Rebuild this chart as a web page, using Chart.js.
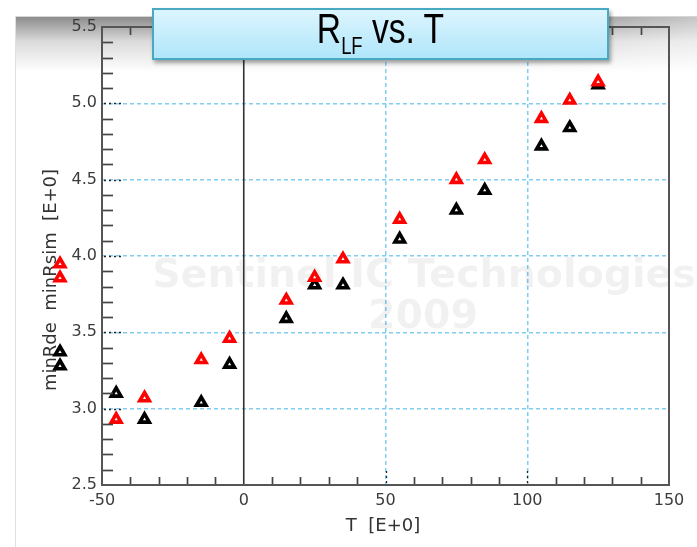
<!DOCTYPE html>
<html><head><meta charset="utf-8">
<script src="https://cdn.jsdelivr.net/npm/chart.js@4"></script>
<style>
html,body{margin:0;padding:0;background:#fff;width:697px;height:547px;overflow:hidden}
#wrap{position:relative;width:697px;height:547px}
#panel{position:absolute;left:15px;top:16px;right:-2px;bottom:-2px;border-top:1px solid #d6d6d6;border-left:1px solid #e0e0e0}
#shadow{position:absolute;left:16px;top:17px;right:0;height:55px;background:linear-gradient(to bottom,rgba(0,0,0,0.45),rgba(0,0,0,0.14) 45%,rgba(0,0,0,0));-webkit-mask-image:linear-gradient(to right,#000 0%,#000 75%,rgba(0,0,0,0.5) 100%);mask-image:linear-gradient(to right,#000 0%,#000 75%,rgba(0,0,0,0.5) 100%)}
#c{position:absolute;left:0;top:0}
#title{position:absolute;left:152px;top:8px;width:457px;height:52px;box-sizing:border-box;border:2px solid #48a9c2;background:linear-gradient(#dcf5fd,#b0e6fb);box-shadow:2px 3px 4px rgba(0,0,0,.35);color:#000}
#tt{position:absolute;left:0;right:0;top:-3px;text-align:center;font-family:'Liberation Sans',Arial,sans-serif;font-size:42px;line-height:44px;transform:scaleX(0.8);transform-origin:center;white-space:nowrap}
#tt sub{font-size:23px;vertical-align:-11px;line-height:0}
</style></head>
<body><div id="wrap"><div id="panel"></div><div id="shadow"></div><canvas id="c" width="697" height="547"></canvas>
<div id="title"><div id="tt">R<sub>LF</sub> vs. T</div></div></div>
<script>
const temps = [-45, -35, -15, -5, 15, 25, 35, 55, 75, 85, 105, 115, 125];
const minRsim = [2.93, 3.07, 3.32, 3.46, 3.71, 3.86, 3.98, 4.24, 4.50, 4.63, 4.90, 5.02, 5.14];
const minRde  = [3.10, 2.93, 3.04, 3.29, 3.59, 3.81, 3.81, 4.11, 4.30, 4.43, 4.72, 4.84, 5.12];
const xTickLabels = [-50, 0, 50, 100, 150];
const yTickLabels = [2.5, 3.0, 3.5, 4.0, 4.5, 5.0, 5.5];

const tickFont = {family:'DejaVu Sans', size:16};
const isMajorY = v => yTickLabels.some(t => Math.abs(t - v) < 1e-6);
const isMajorX = v => xTickLabels.some(t => Math.abs(t - v) < 1e-6);
const gridBlue = '#80cdf2';
const MR = 5.5, MB = 3.6;

function drawTri(ctx, x, y, color){
  ctx.save();
  ctx.beginPath();
  for (let i=0;i<3;i++){
    const a = i*2*Math.PI/3;
    const px = x + Math.sin(a)*MR, py = y - Math.cos(a)*MR;
    i ? ctx.lineTo(px,py) : ctx.moveTo(px,py);
  }
  ctx.closePath();
  ctx.fillStyle = '#fff'; ctx.fill();
  ctx.lineWidth = MB; ctx.strokeStyle = color; ctx.stroke();
  ctx.restore();
}

const decor = {
  id:'decor',
  beforeDatasetsDraw(chart){
    const {ctx} = chart;
    ctx.save();
    ctx.fillStyle = 'rgba(0,0,0,0.055)';
    ctx.textAlign = 'center'; ctx.textBaseline = 'middle';
    let fs = 40;
    ctx.font = 'bold '+fs+'px "DejaVu Sans"';
    const w = ctx.measureText('Sentinel IC Technologies').width;
    fs = fs*544/w;
    ctx.font = 'bold '+fs+'px "DejaVu Sans"';
    ctx.fillText('Sentinel IC Technologies', 424, 277);
    ctx.fillText('2009', 423, 318);
    ctx.restore();
  },
  afterDatasetsDraw(chart){
    const {ctx, chartArea:a, scales:{x, y}} = chart;
    ctx.save();
    const x0 = x.getPixelForValue(0);
    ctx.strokeStyle = '#333'; ctx.lineWidth = 1.6;
    ctx.beginPath(); ctx.moveTo(x0, a.top); ctx.lineTo(x0, a.bottom); ctx.stroke();
    ctx.strokeStyle = '#444'; ctx.lineWidth = 1.7;
    y.ticks.forEach(t => {
      const py = Math.round(y.getPixelForValue(t.value))+0.5;
      if (isMajorY(t.value)) {
        if (t.value > 2.6 && t.value < 5.4) {
          ctx.save(); ctx.strokeStyle = '#222'; ctx.lineWidth = 1.3; ctx.setLineDash([2,3]);
          ctx.beginPath(); ctx.moveTo(a.left+2, py); ctx.lineTo(a.left+20, py); ctx.stroke();
          ctx.restore();
        }
        return;
      }
      ctx.beginPath(); ctx.moveTo(a.left, py); ctx.lineTo(a.left+11, py); ctx.stroke();
    });
    x.ticks.forEach(t => {
      const px = Math.round(x.getPixelForValue(t.value))+0.5;
      if (isMajorX(t.value)) {
        if (t.value > -40 && t.value < 140 && t.value !== 0) {
          ctx.save(); ctx.strokeStyle = '#222'; ctx.lineWidth = 1.3; ctx.setLineDash([2,3]);
          ctx.beginPath(); ctx.moveTo(px, a.bottom-2); ctx.lineTo(px, a.bottom-14); ctx.stroke();
          ctx.restore();
        }
        return;
      }
      ctx.beginPath(); ctx.moveTo(px, a.bottom); ctx.lineTo(px, a.bottom-8); ctx.stroke();
      ctx.beginPath(); ctx.moveTo(px, a.top); ctx.lineTo(px, a.top+8); ctx.stroke();
    });
    ctx.strokeStyle = '#555'; ctx.lineWidth = 2;
    ctx.strokeRect(a.left, a.top, a.right-a.left, a.bottom-a.top);
    ctx.fillStyle = '#333';
    ctx.font = '18px "DejaVu Sans"';
    ctx.textAlign = 'center'; ctx.textBaseline = 'alphabetic';
    ctx.fillText('T  [E+0]', 383, 531);
    ctx.save();
    ctx.translate(56, 280); ctx.rotate(-Math.PI/2);
    ctx.fillText('minRde  minRsim  [E+0]', 0, 0);
    ctx.restore();
    ctx.restore();
    drawTri(ctx, 60, 264, '#ff0000');
    drawTri(ctx, 60, 278, '#ff0000');
    drawTri(ctx, 60, 352, '#000000');
    drawTri(ctx, 60, 366, '#000000');
  }
};

new Chart(document.getElementById('c'), {
  type:'scatter',
  data:{
    datasets:[
      {label:'minRsim', data: temps.map((t,i)=>({x:t,y:minRsim[i]})), pointStyle:'triangle', radius:MR, borderWidth:MB, borderColor:'#ff0000', backgroundColor:'#fff'},
      {label:'minRde', data: temps.map((t,i)=>({x:t,y:minRde[i]})), pointStyle:'triangle', radius:MR, borderWidth:MB, borderColor:'#000', backgroundColor:'#fff'}
    ]
  },
  options:{
    responsive:false, animation:false, events:[],
    layout:{padding:{left:0, right:28, top:27, bottom:0}},
    plugins:{legend:{display:false}, tooltip:{enabled:false}},
    scales:{
      x:{type:'linear', min:-50, max:150,
        afterFit(s){ s.height = 62; },
        border:{display:false, dash:[4,3]},
        grid:{drawTicks:false, lineWidth:1.5, color:c => (isMajorX(c.tick.value) && c.tick.value>-50 && c.tick.value<150 && c.tick.value!==0) ? gridBlue : 'rgba(0,0,0,0)'},
        ticks:{stepSize:10, autoSkip:false, maxRotation:0, padding:6, color:'#3c3c3c', font:tickFont,
          callback:v => isMajorX(v) ? String(Math.round(v)) : ''}
      },
      y:{type:'linear', min:2.5, max:5.5,
        afterFit(s){ s.width = 102; },
        border:{display:false, dash:[4,3]},
        grid:{drawTicks:false, lineWidth:1.5, color:c => (isMajorY(c.tick.value) && c.tick.value>2.6 && c.tick.value<5.4) ? gridBlue : 'rgba(0,0,0,0)'},
        ticks:{stepSize:0.1, autoSkip:false, padding:5, color:'#3c3c3c', font:tickFont,
          callback:v => isMajorY(v) ? v.toFixed(1) : ''}
      }
    }
  },
  plugins:[decor]
});
</script></body></html>
